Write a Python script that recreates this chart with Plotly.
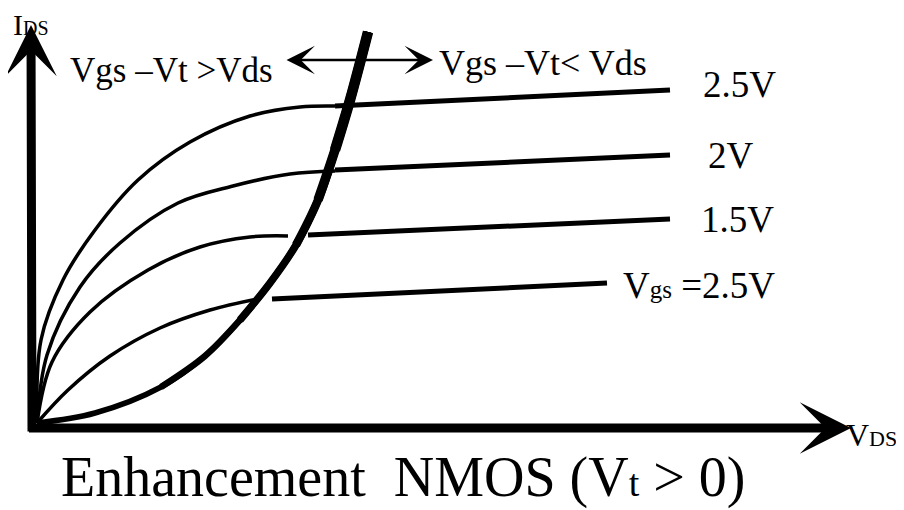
import plotly.graph_objects as go

# ---- data (V_DS, I_DS in arbitrary units) ----
curve_labels = ["2.5V", "2V", "1.5V", "Vgs=2.5V"]

tri_A_x = [0.05, 0.09, 0.31, 0.63, 1.06, 1.58, 2.18, 2.68, 3.03]
tri_A_y = [0.05, 0.88, 1.48, 1.98, 2.48, 2.86, 3.12, 3.21, 3.22]
sat_A_x = [3.03, 6.38]
sat_A_y = [3.22, 3.38]

tri_B_x = [0.05, 0.15, 0.48, 0.88, 1.46, 2.01, 2.58, 3.03]
tri_B_y = [0.05, 0.73, 1.41, 1.85, 2.25, 2.42, 2.54, 2.57]
sat_B_x = [3.03, 6.38]
sat_B_y = [2.58, 2.73]

tri_C_x = [0.05, 0.20, 0.58, 1.16, 1.68, 2.18, 2.56]
tri_C_y = [0.05, 0.66, 1.16, 1.58, 1.81, 1.91, 1.92]
sat_C_x = [2.76, 6.38]
sat_C_y = [1.93, 2.09]

tri_D_x = [0.05, 0.36, 0.78, 1.28, 1.78, 2.25]
tri_D_y = [0.05, 0.38, 0.72, 1.00, 1.18, 1.29]
sat_D_x = [2.40, 5.75]
sat_D_y = [1.29, 1.45]

edge_x = [0.05, 0.63, 1.29, 1.73, 2.08, 2.38, 2.64, 2.86, 3.03, 3.18, 3.36]
edge_y = [0.05, 0.15, 0.41, 0.72, 1.08, 1.45, 1.83, 2.28, 2.78, 3.28, 3.96]

# page geometry: the page body has an 8px margin
PAGE_W, PAGE_H, OFF = 904, 510, 8
X0, Y0, S = 32, 428, 100  # page pixel of origin, pixels per unit

fig = go.Figure()

def add_line(x, y, width, spline=True):
    fig.add_trace(go.Scatter(
        x=x, y=y, mode="lines",
        line=dict(color="black", width=width,
                  shape="spline" if spline else "linear", smoothing=1.0),
        hoverinfo="skip", showlegend=False))

for tx, ty, sx, sy in [(tri_A_x, tri_A_y, sat_A_x, sat_A_y),
                       (tri_B_x, tri_B_y, sat_B_x, sat_B_y),
                       (tri_C_x, tri_C_y, sat_C_x, sat_C_y),
                       (tri_D_x, tri_D_y, sat_D_x, sat_D_y)]:
    add_line(tx, ty, 3.5)
    add_line(sx, sy, 5, spline=False)

# boundary curve, gradually thicker toward the top
for start, width in [(0, 5.5), (2, 6.5), (4, 7.5), (6, 8.5), (7, 9.5), (8, 10.5)]:
    add_line(edge_x[start:], edge_y[start:], width)

FONT = "Liberation Serif, Times New Roman, serif"

def px2x(px):
    return (px - X0) / S

def py2y(py):
    return (Y0 - py) / S

def text(t, px_left, py_base, size):
    fig.add_annotation(
        x=px2x(px_left), y=py2y(py_base - 0.34 * size), xref="x", yref="y",
        text=t, showarrow=False, xanchor="left", yanchor="middle",
        font=dict(family=FONT, size=size, color="black"), borderpad=0)

def arrow(px_tail, py_tail, px_tip, py_tip, width, size, both=False):
    fig.add_annotation(
        x=px2x(px_tip), y=py2y(py_tip), ax=px2x(px_tail), ay=py2y(py_tail),
        xref="x", yref="y", axref="x", ayref="y", text="",
        showarrow=True, arrowhead=3, arrowsize=size, arrowwidth=width,
        arrowcolor="black", standoff=0, startstandoff=0,
        arrowside="end+start" if both else "end",
        startarrowhead=3, startarrowsize=size)

# axes
arrow(32, 433, 31, 25, 9, 0.95)
arrow(27.5, 428, 851, 428, 9, 0.95)
# region double arrow
arrow(285, 60, 433, 60, 2.5, 1.9, both=True)

text("I<span style='font-size:20px'>DS</span>", 12, 34.5, 30)
text("V<span style='font-size:22px'>DS</span>", 845, 446, 32)
text("Vgs –Vt >Vds", 69, 82, 35)
text("Vgs –Vt< Vds", 438, 75, 36)
text(curve_labels[0], 702, 97, 37)
text(curve_labels[1], 707, 168, 37)
text(curve_labels[2], 700, 232, 37)
text("V<span style='font-size:25px'>gs</span> =2.5V", 622, 298, 37)
text("Enhancement  NMOS (V<span style='font-size:38px'>t</span> > 0)", 60, 497, 56)

fig.update_layout(
    width=PAGE_W - OFF, height=PAGE_H - OFF, autosize=False,
    margin=dict(l=0, r=0, t=0, b=0),
    paper_bgcolor="white", plot_bgcolor="white",
    xaxis=dict(range=[px2x(OFF), px2x(PAGE_W)], visible=False, fixedrange=True),
    yaxis=dict(range=[py2y(PAGE_H), py2y(OFF)], visible=False, fixedrange=True),
    showlegend=False)

fig.write_html("out.html")
